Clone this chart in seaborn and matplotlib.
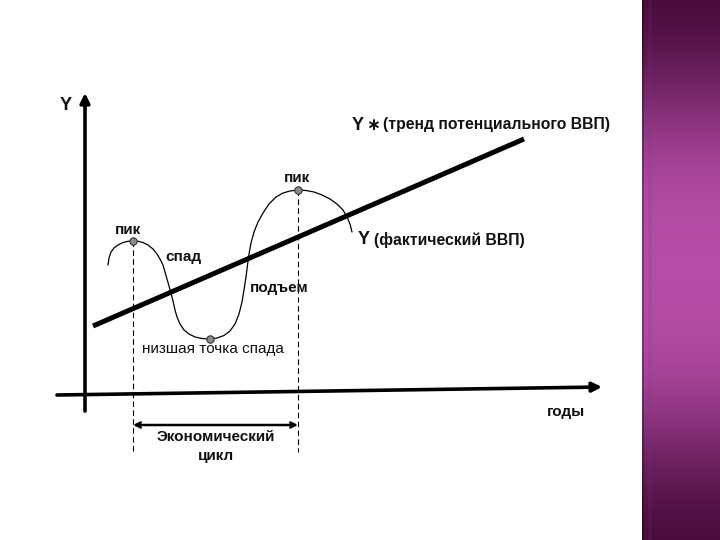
import numpy as np
import pandas as pd
import matplotlib.pyplot as plt
import seaborn as sns

# Schematic of the business cycle (units: years along x, GDP along y)
cycle_x = [23, 24, 26, 29, 33, 38, 43, 48,
           53, 58, 63, 68, 72, 75, 78, 80, 82, 84, 86, 88, 90, 92, 95, 99,
           104, 110, 117, 125,
           132, 139, 145, 150, 154, 157, 159, 161, 162.5, 164, 166, 169, 173,
           178, 184, 191, 198, 205, 213,
           221, 229, 237, 245, 252, 258, 262, 265, 267]
cycle_y = [129, 136, 142, 146, 149, 151.5, 152.7, 153,
           152.7, 151.5, 149, 145, 140, 135, 129, 122, 115, 108, 101, 93, 84,
           77, 70, 64, 60, 57, 55.5, 55,
           56, 58.5, 63, 70, 80, 92, 104, 117, 129, 140, 151, 162, 172,
           181, 190, 197, 201, 203, 204,
           203.5, 202, 199, 195, 190, 184, 177, 170, 162]

trend_x = [8, 439]
trend_y = [68, 255]

# peaks and trough
point_x = [48, 125, 213]
point_y = [153, 55, 204]

cycle_start = 48
cycle_end = 213

sns.set_theme(style="white")
plt.rcParams["font.family"] = ["Liberation Sans", "DejaVu Sans"]

fig = plt.figure(figsize=(7.2, 5.4), dpi=100)
ax = fig.add_axes([0, 0, 1, 1])
ax.set_xlim(-85, 635)
ax.set_ylim(-146, 394)
ax.axis("off")

# axes of the diagram
ax.annotate("", xy=(0, 301), xytext=(0, -17),
            arrowprops=dict(arrowstyle="-|>", color="black", lw=2.6,
                            mutation_scale=14, shrinkA=0, shrinkB=0))
ax.annotate("", xy=(517, 7), xytext=(-28, -1),
            arrowprops=dict(arrowstyle="-|>", color="black", lw=2.6,
                            mutation_scale=14, shrinkA=0, shrinkB=0))

# potential GDP trend and actual GDP
curve = pd.DataFrame({"x": cycle_x, "y": cycle_y})
trend = pd.DataFrame({"x": trend_x, "y": trend_y})
sns.lineplot(data=trend, x="x", y="y", color="black", lw=3.6, ax=ax,
             solid_capstyle="butt")
sns.lineplot(data=curve, x="x", y="y", sort=False, color="black", lw=0.9,
             ax=ax)

# dashed drop lines from the peaks
for px, py in [(point_x[0], point_y[0]), (point_x[2], point_y[2])]:
    ax.plot([px, px], [py, -58], color="black", lw=0.8, ls=(0, (5, 3)))

sns.scatterplot(x=point_x, y=point_y, s=28, color="#8a8a8a",
                edgecolor="#333333", linewidth=0.8, zorder=5, ax=ax)

# cycle length arrow
ax.annotate("", xy=(cycle_end, -31), xytext=(cycle_start, -31),
            arrowprops=dict(arrowstyle="<->", color="black", lw=1.8,
                            mutation_scale=9, shrinkA=0, shrinkB=0))

bold = dict(fontweight="bold", color="#111111")
ax.text(-19, 289, "Y", fontsize=13, ha="center", va="center", **bold)
ax.text(267, 269, "Y", fontsize=13, ha="left", va="center", **bold)
ax.text(281, 269, "\u2217", fontsize=12, ha="left", va="center", **bold)
ax.text(298, 269, "(тренд потенциального ВВП)", fontsize=11.3,
        ha="left", va="center", **bold)
ax.text(212, 216, "пик", fontsize=11, ha="center", va="center", **bold)
ax.text(43, 164, "пик", fontsize=11, ha="center", va="center", **bold)
ax.text(80, 137, "спад", fontsize=11, ha="left", va="center", **bold)
ax.text(165, 106, "подъем", fontsize=11, ha="left", va="center", **bold)
ax.text(57, 45, "низшая точка спада", fontsize=11, ha="left", va="center",
        color="#111111")
ax.text(273, 154, "Y", fontsize=13, ha="left", va="center", **bold)
ax.text(289, 154, "(фактический ВВП)", fontsize=11.3, ha="left",
        va="center", **bold)
ax.text(481, -18, "годы", fontsize=11, ha="center", va="center", **bold)
ax.text(131, -43, "Экономический", fontsize=11, ha="center", va="center",
        **bold)
ax.text(131, -62, "цикл", fontsize=11, ha="center", va="center", **bold)

# purple side panel of the slide
side = fig.add_axes([642 / 720, 0, 78 / 720, 1])
t = np.linspace(0, 1, 200)[:, None]
shade = np.exp(-(np.abs(t - 0.5) / 0.36) ** 3)
dark = np.array([0.26, 0.03, 0.21])
light = np.array([0.71, 0.30, 0.65])
img = dark + (light - dark) * shade[..., None]
img = np.repeat(img, 78, axis=1)
img[:, 6:10] = img[:, 6:10] * 0.85 + np.array([0.45, 0.2, 0.55]) * 0.15
img[:, 0:2] = img[:, 0:2] * 0.7
side.imshow(img, aspect="auto", extent=[0, 1, 0, 1])
side.axis("off")

fig.savefig("out.png", dpi=100)
